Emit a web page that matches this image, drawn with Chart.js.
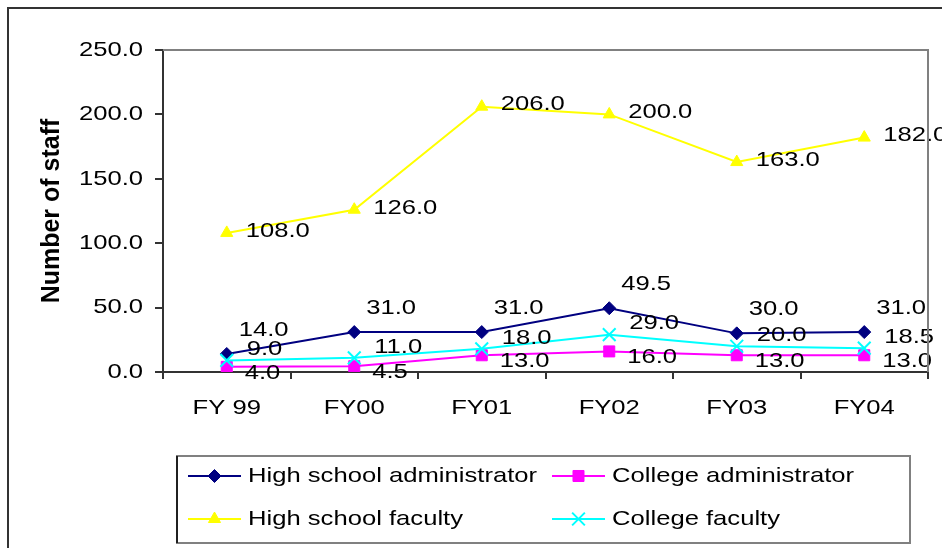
<!doctype html>
<html>
<head>
<title>Number of staff</title>
<script src="https://cdn.jsdelivr.net/npm/chart.js@4.4.1/dist/chart.umd.min.js"></script>
<style>
  html, body { margin: 0; padding: 0; background: #fff; }
  #container { width: 942px; height: 548px; }
</style>
</head>
<body>
<div id="container"><canvas id="canvas"></canvas></div>
<script>
var years = ['FY 99', 'FY00', 'FY01', 'FY02', 'FY03', 'FY04'];
var hsAdmin = [14.0, 31.0, 31.0, 49.5, 30.0, 31.0];
var collegeAdmin = [4.0, 4.5, 13.0, 16.0, 13.0, 13.0];
var hsFaculty = [108.0, 126.0, 206.0, 200.0, 163.0, 182.0];
var collegeFaculty = [9.0, 11.0, 18.0, 29.0, 20.0, 18.5];
var yTicks = [0, 50, 100, 150, 200, 250];

// the reference text is drawn wider than Arial, so widen non-bold text
var STRETCH = 1.22;
var stretchText = {
  id: 'stretchText',
  beforeInit: function(chart) {
    var ctx = chart.ctx;
    var fill = ctx.fillText.bind(ctx);
    ctx.fillText = function(text, x, y) {
      if (ctx.font.indexOf('bold') >= 0) return fill(text, x, y);
      ctx.save();
      ctx.translate(x, y);
      ctx.scale(STRETCH, 1);
      fill(text, 0, 0);
      ctx.restore();
    };
  }
};

// value labels next to each point, offset per series
var valueLabels = {
  id: 'valueLabels',
  afterDatasetsDraw: function(chart, args, opts) {
    var ctx = chart.ctx;
    ctx.save();
    ctx.font = '21px "Liberation Sans", Arial, sans-serif';
    ctx.fillStyle = '#000';
    ctx.textAlign = 'left';
    ctx.textBaseline = 'middle';
    chart.data.datasets.forEach(function(ds, i) {
      var off = opts.offsets[i];
      chart.getDatasetMeta(i).data.forEach(function(pt, j) {
        ctx.fillText(ds.data[j].toFixed(1), pt.x + off[0], pt.y + off[1]);
      });
    });
    ctx.restore();
  }
};

// outer frame, plot area frame and the boxed legend
var frame = {
  id: 'frame',
  afterDraw: function(chart, args, opts) {
    var ctx = chart.ctx;
    var a = chart.chartArea;
    ctx.save();
    ctx.lineWidth = 2;
    ctx.strokeStyle = '#333';
    ctx.beginPath();
    ctx.moveTo(8, chart.height);
    ctx.lineTo(8, 8);
    ctx.lineTo(chart.width, 8);
    ctx.stroke();

    ctx.strokeStyle = '#808080';
    ctx.beginPath();
    ctx.moveTo(a.left, a.top);
    ctx.lineTo(a.right, a.top);
    ctx.lineTo(a.right, a.bottom);
    ctx.stroke();

    var b = opts.box;
    ctx.strokeStyle = '#808080';
    ctx.strokeRect(b[0], b[1], b[2] - b[0], b[3] - b[1]);
    ctx.strokeStyle = '#000';
    ctx.lineWidth = 1.5;
    ctx.beginPath();
    ctx.moveTo(b[0], b[1]);
    ctx.lineTo(b[0], b[3]);
    ctx.stroke();

    ctx.font = '21px "Liberation Sans", Arial, sans-serif';
    ctx.textAlign = 'left';
    ctx.textBaseline = 'middle';
    chart.data.datasets.forEach(function(ds, i) {
      var x = opts.cols[i % 2];
      var y = opts.rows[Math.floor(i / 2)];
      ctx.strokeStyle = ds.borderColor;
      ctx.lineWidth = 2;
      ctx.beginPath();
      ctx.moveTo(x, y);
      ctx.lineTo(x + opts.lineLen, y);
      ctx.stroke();
      ctx.fillStyle = ds.backgroundColor;
      ctx.lineWidth = ds.pointBorderWidth;
      Chart.helpers.drawPoint(ctx, {
        pointStyle: ds.pointStyle,
        radius: ds.pointRadius,
        borderWidth: ds.pointBorderWidth,
        rotation: 0
      }, x + opts.lineLen / 2, y);
      ctx.fillStyle = '#000';
      ctx.fillText(ds.label, x + opts.lineLen + 7, y);
    });
    ctx.restore();
  }
};

function series(label, data, color, style, radius, order) {
  return {
    label: label,
    data: data,
    borderColor: color,
    backgroundColor: color,
    borderWidth: 2,
    pointStyle: style,
    pointRadius: radius,
    pointHoverRadius: radius,
    pointBorderWidth: style === 'crossRot' ? 2 : 1,
    pointBorderColor: color,
    pointBackgroundColor: color,
    tension: 0,
    order: order
  };
}

window.onload = function() {
  Chart.defaults.font.family = '"Liberation Sans", Arial, sans-serif';
  Chart.defaults.font.size = 21;
  Chart.defaults.color = '#000';

  var ctx = document.getElementById('canvas').getContext('2d');
  window.myChart = new Chart(ctx, {
    type: 'line',
    data: {
      labels: years,
      datasets: [
        series('High school administrator', hsAdmin, '#000080', 'rectRot', 6.5, 4),
        series('College administrator', collegeAdmin, '#FF00FF', 'rect', 7.8, 3),
        series('High school faculty', hsFaculty, '#FFFF00', 'triangle', 7, 2),
        series('College faculty', collegeFaculty, '#00FFFF', 'crossRot', 9, 1)
      ]
    },
    plugins: [stretchText, valueLabels, frame],
    options: {
      responsive: true,
      maintainAspectRatio: false,
      animation: false,
      layout: { padding: { left: 0, top: 50, right: 14, bottom: 116 } },
      plugins: {
        legend: { display: false },
        tooltip: { enabled: false },
        valueLabels: { offsets: [[12, -24], [18, 6], [19, -2], [20, -11]] },
        frame: {
          box: [177, 456, 910, 543],
          cols: [188, 552],
          rows: [476, 519],
          lineLen: 53
        }
      },
      scales: {
        x: {
          offset: true,
          afterFit: function(s) { s.height = 60; },
          grid: { offset: true, drawOnChartArea: false, tickLength: 7, color: '#333', lineWidth: 2 },
          border: { color: '#333', width: 2 },
          ticks: { padding: 17, maxRotation: 0, autoSkip: false }
        },
        y: {
          min: 0,
          max: 250,
          afterBuildTicks: function(s) {
            s.ticks = yTicks.map(function(v) { return { value: v }; });
          },
          afterFit: function(s) { s.width = 163; },
          grid: { drawOnChartArea: false, tickLength: 8, color: '#333', lineWidth: 2 },
          border: { color: '#333', width: 2 },
          ticks: {
            padding: 12,
            callback: function(v) { return v.toFixed(1); }
          },
          title: {
            display: true,
            text: 'Number of staff',
            font: { size: 25, weight: 'bold' },
            padding: { top: 37, bottom: 0 }
          }
        }
      }
    }
  });
};
</script>
</body>
</html>
